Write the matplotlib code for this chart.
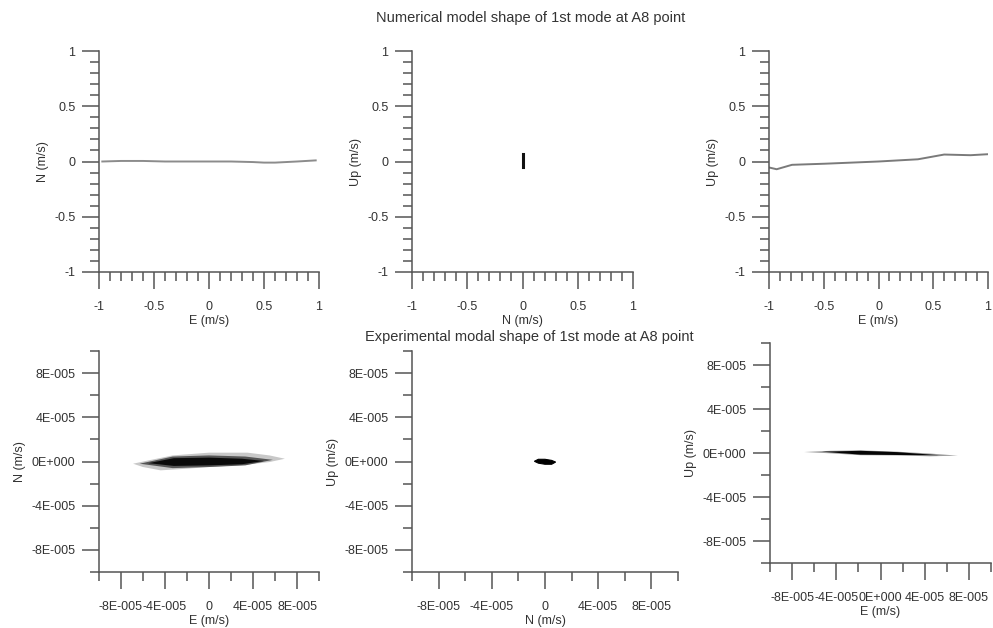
"""Modal shape plots at A8 point: numerical (top row) vs experimental (bottom row)."""
import matplotlib
matplotlib.use("Agg")
import matplotlib.pyplot as plt

plt.rcParams["font.family"] = ["Liberation Sans", "DejaVu Sans"]

# ---- numerical model (m/s) ----
num_e1 = [-0.97, -0.8, -0.6, -0.4, -0.2, 0.0, 0.2, 0.4, 0.5, 0.6, 0.8, 0.97]
num_n1 = [0.0, 0.005, 0.005, 0.0, 0.0, 0.0, 0.0, -0.005, -0.01, -0.01, 0.0, 0.01]

num_n2 = [0.0, 0.0, 0.0]
num_up2 = [-0.05, 0.0, 0.07]

num_e3 = [-1.0, -0.93, -0.79, -0.49, 0.0, 0.36, 0.6, 0.84, 1.0]
num_up3 = [-0.054, -0.07, -0.03, -0.02, 0.0, 0.02, 0.063, 0.057, 0.066]

# ---- experimental orbits, outlines (units of 1E-005 m/s) ----
exp4_outer_e = [-6.9, -5.5, -3.3, 0.0, 3.5, 5.5, 6.9, 5.5, 3.3, 0.0, -2.0, -4.4, -6.0]
exp4_outer_n = [-0.2, 0.1, 0.55, 0.8, 0.8, 0.55, 0.25, -0.05, -0.3, -0.5, -0.65, -0.8, -0.5]
exp4_mid_e = [-6.3, -3.3, 0.0, 3.3, 5.8, 3.3, 0.0, -3.3]
exp4_mid_n = [-0.2, 0.45, 0.55, 0.45, 0.15, -0.35, -0.5, -0.6]
exp4_core_e = [-5.5, -3.2, 0.0, 3.0, 5.0, 3.0, 0.0, -3.2]
exp4_core_n = [-0.15, 0.3, 0.35, 0.25, 0.05, -0.25, -0.35, -0.4]

exp5_n = [-0.8, -0.5, 0.0, 0.5, 0.8, 0.5, 0.0, -0.5]
exp5_up = [0.02, 0.2, 0.2, 0.1, -0.05, -0.25, -0.25, -0.15]

exp6_outer_e = [-6.9, -4.5, -1.8, 1.5, 4.5, 7.0, 4.5, 1.5, -1.8, -4.5]
exp6_outer_up = [0.09, 0.2, 0.24, 0.12, -0.05, -0.24, -0.3, -0.22, -0.2, -0.03]
exp6_core_e = [-5.3, -1.8, 1.5, 5.3, 1.5, -1.8]
exp6_core_up = [0.12, 0.2, 0.08, -0.2, -0.18, -0.15]

SCALE = 1e-5

# tick positions / labels
num_major = [-1, -0.5, 0, 0.5, 1]
num_major_lbl = ["-1", "-0.5", "0", "0.5", "1"]
num_minor = [i / 10 for i in range(-10, 11)]
exp_major = [-8e-5, -4e-5, 0, 4e-5, 8e-5]
exp_minor = [-1e-4, -6e-5, -2e-5, 2e-5, 6e-5, 1e-4]
exp_lbl_sci = ["-8E-005", "-4E-005", "0E+000", "4E-005", "8E-005"]
exp_lbl_zero = ["-8E-005", "-4E-005", "0", "4E-005", "8E-005"]

TXT = "#333333"
AX = "#555555"
FS = 9


def style(ax, lim, major, minor, xlbl, ylbl, xlabel, ylabel):
    ax.set_xlim(-lim, lim)
    ax.set_ylim(-lim, lim)
    for s in ("top", "right"):
        ax.spines[s].set_visible(False)
    for s in ("left", "bottom"):
        ax.spines[s].set_color(AX)
        ax.spines[s].set_linewidth(1.1)
    ax.set_xticks(major, xlbl)
    ax.set_yticks(major, ylbl)
    ax.set_xticks(minor, minor=True)
    ax.set_yticks(minor, minor=True)
    ax.tick_params(which="major", length=12, width=1.1, color=AX,
                   labelsize=FS, labelcolor=TXT)
    ax.tick_params(which="minor", length=6.5, width=1.1, color=AX)
    ax.tick_params(axis="x", which="major", pad=9)
    ax.tick_params(axis="y", which="major", pad=5)
    ax.set_xlabel(xlabel, fontsize=FS, color=TXT, labelpad=1)
    ax.set_ylabel(ylabel, fontsize=FS, color=TXT, labelpad=4)


fig = plt.figure(figsize=(9.93, 6.28), dpi=100)
W, H = 993, 628


def add_ax(x0, x1, ytop, ybot):
    return fig.add_axes([x0 / W, 1 - ybot / H, (x1 - x0) / W, (ybot - ytop) / H])


ax1 = add_ax(99, 319, 51, 272)
ax2 = add_ax(412, 633, 51, 272)
ax3 = add_ax(769, 988, 51, 272)
ax4 = add_ax(99, 319, 351, 572)
ax5 = add_ax(412, 678, 351, 572)
ax6 = add_ax(770, 991, 343, 563)

# top row
ax1.plot(num_e1, num_n1, color="#8c8c8c", lw=1.4)
ax2.plot(num_n2, num_up2, color="#111111", lw=2.2)
ax3.plot(num_e3, num_up3, color="#7a7a7a", lw=1.4)

style(ax1, 1, num_major, num_minor, num_major_lbl, num_major_lbl, "E (m/s)", "N (m/s)")
style(ax2, 1, num_major, num_minor, num_major_lbl, num_major_lbl, "N (m/s)", "Up (m/s)")
style(ax3, 1, num_major, num_minor, num_major_lbl, num_major_lbl, "E (m/s)", "Up (m/s)")

# bottom row
sc = lambda v: [x * SCALE for x in v]
ax4.fill(sc(exp4_outer_e), sc(exp4_outer_n), color="#c8c8c8", lw=0)
ax4.fill(sc(exp4_mid_e), sc(exp4_mid_n), color="#555555", lw=0)
ax4.fill(sc(exp4_core_e), sc(exp4_core_n), color="#0a0a0a", lw=0)
ax5.fill(sc(exp5_n), sc(exp5_up), color="#000000", lw=0.8, edgecolor="#000000")
ax6.fill(sc(exp6_outer_e), sc(exp6_outer_up), color="#9a9a9a", lw=0)
ax6.fill(sc(exp6_core_e), sc(exp6_core_up), color="#050505", lw=0)

style(ax4, 1e-4, exp_major, exp_minor, exp_lbl_zero, exp_lbl_sci, "E (m/s)", "N (m/s)")
style(ax5, 1e-4, exp_major, exp_minor, exp_lbl_zero, exp_lbl_sci, "N (m/s)", "Up (m/s)")
style(ax6, 1e-4, exp_major, exp_minor, exp_lbl_sci, exp_lbl_sci, "E (m/s)", "Up (m/s)")

fig.text(531 / W, 1 - 18 / H, "Numerical model shape of 1st mode at A8 point",
         ha="center", va="center", fontsize=10.5, color=TXT)
fig.text(529 / W, 1 - 337 / H, "Experimental modal shape of 1st mode at A8 point",
         ha="center", va="center", fontsize=10.5, color=TXT)

fig.savefig("out.png", dpi=100)
